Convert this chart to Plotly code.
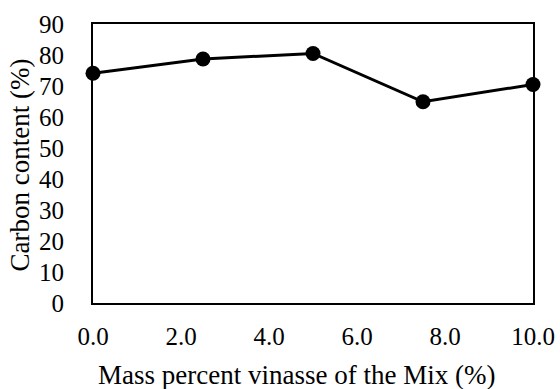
import plotly.graph_objects as go

x_values = [0.0, 2.5, 5.0, 7.5, 10.0]
carbon_content = [74.1, 78.7, 80.5, 64.9, 70.5]
x_ticks = [0, 2, 4, 6, 8, 10]
x_tick_labels = ["0.0", "2.0", "4.0", "6.0", "8.0", "10.0"]
y_ticks = [0, 10, 20, 30, 40, 50, 60, 70, 80, 90]
x_title = "Mass percent vinasse of the Mix (%)"
y_title = "Carbon content (%)"

font_family = "Liberation Serif, Times New Roman, serif"

fig = go.Figure()
fig.add_trace(go.Scatter(
    x=x_values, y=carbon_content, mode="lines+markers",
    line=dict(color="black", width=3),
    marker=dict(color="black", size=15),
    cliponaxis=False, showlegend=False,
))

fig.update_layout(
    width=560, height=389,
    margin=dict(l=93, r=27, t=24, b=86),
    paper_bgcolor="white", plot_bgcolor="white",
    font=dict(family=font_family, size=25, color="black"),
)
fig.update_xaxes(
    range=[0, 10], tickvals=x_ticks, ticktext=x_tick_labels,
    showgrid=False, zeroline=False, showline=True, linecolor="black", linewidth=2,
    mirror=True, ticks="", ticklabelstandoff=10,
    tickfont=dict(size=25),
    automargin=False,
)
fig.update_yaxes(
    range=[0, 90], tickvals=y_ticks,
    showgrid=False, zeroline=False, showline=True, linecolor="black", linewidth=2,
    mirror=True, ticks="", ticklabelstandoff=22,
    tickfont=dict(size=25),
    automargin=False,
)
fig.add_annotation(
    text=x_title, xref="paper", yref="paper", x=0.4636, y=-0.259,
    xanchor="center", yanchor="middle", showarrow=False,
    font=dict(size=27), borderpad=0,
)
fig.add_annotation(
    text=y_title, xref="paper", yref="paper", x=-0.165, y=0.4946,
    xanchor="center", yanchor="middle", showarrow=False, textangle=-90,
    font=dict(size=27), borderpad=0,
)

fig.write_html("out.html", config={"displayModeBar": False},
               post_script="document.body.style.margin='0';")
